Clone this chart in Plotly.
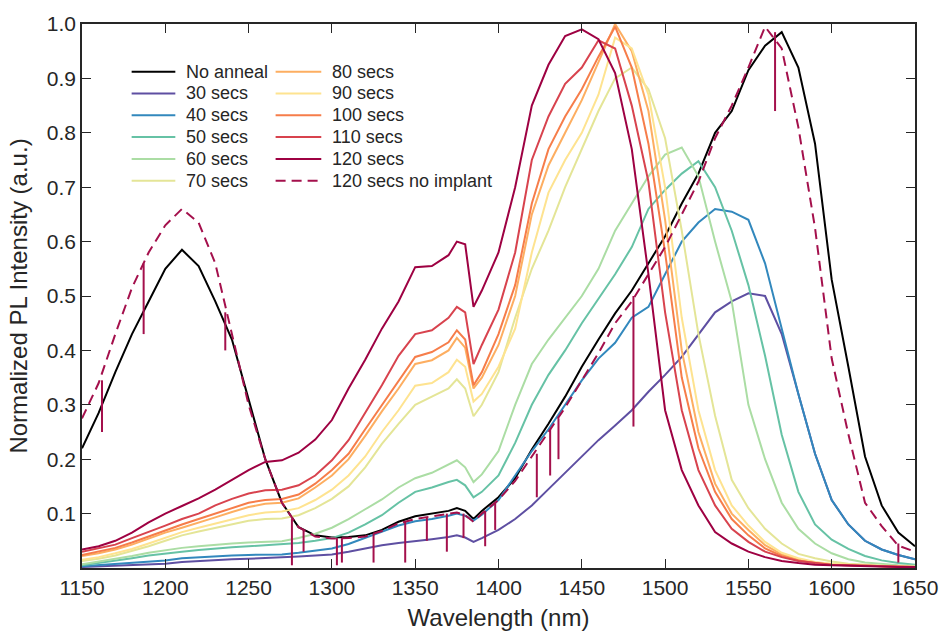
import plotly.graph_objects as go

# Sampled wavelengths (nm); extra points around the 1385 nm absorption dip
wavelength = [1150, 1160, 1170, 1180, 1190, 1200, 1210, 1220, 1230, 1240,
              1250, 1260, 1270, 1280, 1290, 1300, 1310, 1320, 1330, 1340,
              1350, 1360, 1370, 1375, 1380, 1385, 1390,
              1400, 1410, 1420, 1430, 1440, 1450, 1460, 1470, 1480, 1490,
              1500, 1510, 1520, 1530, 1540, 1550, 1560, 1570, 1580, 1590,
              1600, 1610, 1620, 1630, 1640, 1650]

no_anneal = [0.22, 0.285, 0.36, 0.43, 0.49, 0.55, 0.585, 0.555, 0.49, 0.42,
             0.31, 0.20, 0.12, 0.075, 0.06, 0.056, 0.057, 0.06, 0.07, 0.085,
             0.095, 0.1, 0.105, 0.11, 0.105, 0.09, 0.105,
             0.13, 0.165, 0.218, 0.265, 0.315, 0.37, 0.42, 0.468, 0.51, 0.56,
             0.61, 0.67, 0.725, 0.8, 0.84, 0.915, 0.96, 0.985, 0.92, 0.78,
             0.53, 0.37, 0.205, 0.115, 0.065, 0.04]

secs_30 = [0.002, 0.003, 0.004, 0.005, 0.006, 0.008, 0.011, 0.013, 0.015, 0.016,
           0.017, 0.018, 0.019, 0.021, 0.023, 0.025, 0.03, 0.036, 0.042, 0.046,
           0.049, 0.053, 0.057, 0.06, 0.056, 0.048, 0.055,
           0.07, 0.09, 0.115, 0.145, 0.175, 0.205, 0.235, 0.262, 0.29, 0.324,
           0.355, 0.388, 0.43, 0.47, 0.49, 0.505, 0.5, 0.43, 0.32, 0.21,
           0.125, 0.08, 0.05, 0.034, 0.024, 0.016]

secs_40 = [0.003, 0.005, 0.007, 0.009, 0.011, 0.014, 0.018, 0.02, 0.022, 0.023,
           0.024, 0.024, 0.025, 0.028, 0.032, 0.036, 0.044, 0.055, 0.067, 0.078,
           0.086, 0.09, 0.096, 0.1, 0.096, 0.087, 0.098,
           0.125, 0.17, 0.215, 0.255, 0.3, 0.345, 0.385, 0.414, 0.46, 0.48,
           0.54, 0.6, 0.635, 0.66, 0.655, 0.64, 0.56, 0.44, 0.32, 0.21,
           0.125, 0.08, 0.05, 0.034, 0.024, 0.016]

secs_50 = [0.005, 0.009, 0.013, 0.018, 0.023, 0.027, 0.03, 0.033, 0.036, 0.038,
           0.04, 0.042, 0.043, 0.046, 0.05, 0.055, 0.065, 0.08, 0.097, 0.12,
           0.14, 0.148, 0.158, 0.162, 0.152, 0.13, 0.14,
           0.17, 0.23, 0.3, 0.355, 0.4, 0.45, 0.495, 0.54, 0.59, 0.66,
           0.695, 0.725, 0.748, 0.7, 0.62, 0.52, 0.39, 0.245, 0.14, 0.08,
           0.052, 0.035, 0.022, 0.014, 0.009, 0.006]

secs_60 = [0.007, 0.012, 0.016, 0.022, 0.028, 0.033, 0.037, 0.04, 0.043, 0.045,
           0.047, 0.048, 0.049, 0.055, 0.063, 0.074, 0.09, 0.108, 0.126, 0.148,
           0.165, 0.175, 0.19, 0.198, 0.185, 0.158, 0.172,
           0.215, 0.3, 0.375, 0.42, 0.46, 0.5, 0.55, 0.62, 0.67, 0.72,
           0.76, 0.773, 0.72, 0.6, 0.49, 0.3, 0.2, 0.12, 0.072, 0.045,
           0.027, 0.016, 0.01, 0.007, 0.005, 0.004]

secs_70 = [0.013, 0.017, 0.023, 0.031, 0.04, 0.05, 0.06, 0.067, 0.074, 0.081,
           0.087, 0.09, 0.091, 0.097, 0.11, 0.127, 0.15, 0.185, 0.228, 0.265,
           0.3, 0.315, 0.33, 0.347, 0.33, 0.279, 0.3,
           0.36, 0.46, 0.55, 0.62, 0.7, 0.77, 0.84, 0.9, 0.92, 0.88,
           0.79, 0.62, 0.43, 0.28, 0.162, 0.11, 0.072, 0.045, 0.026, 0.018,
           0.012, 0.008, 0.006, 0.004, 0.003, 0.003]

secs_80 = [0.022, 0.027, 0.034, 0.043, 0.054, 0.065, 0.074, 0.083, 0.093, 0.103,
           0.112, 0.118, 0.12, 0.128, 0.148, 0.17, 0.2, 0.243, 0.288, 0.33,
           0.375, 0.382, 0.4, 0.423, 0.405, 0.33, 0.35,
           0.41, 0.5, 0.65, 0.74, 0.8, 0.86, 0.93, 1.0, 0.95, 0.84,
           0.64, 0.4, 0.25, 0.155, 0.1, 0.07, 0.042, 0.025, 0.016, 0.01,
           0.007, 0.005, 0.004, 0.003, 0.003, 0.002]

secs_90 = [0.015, 0.02, 0.027, 0.035, 0.045, 0.056, 0.066, 0.074, 0.082, 0.09,
           0.097, 0.102, 0.104, 0.11, 0.125, 0.144, 0.17, 0.205, 0.25, 0.29,
           0.335, 0.34, 0.36, 0.383, 0.37, 0.306, 0.32,
           0.37, 0.44, 0.58, 0.69, 0.75, 0.8, 0.87, 0.975, 0.955, 0.87,
           0.7, 0.46, 0.29, 0.18, 0.115, 0.078, 0.048, 0.028, 0.018, 0.011,
           0.008, 0.006, 0.004, 0.003, 0.003, 0.002]

secs_100 = [0.024, 0.03, 0.037, 0.047, 0.058, 0.07, 0.08, 0.09, 0.1, 0.11,
            0.12, 0.125, 0.127, 0.135, 0.155, 0.18, 0.21, 0.255, 0.3, 0.345,
            0.388, 0.397, 0.415, 0.437, 0.42, 0.336, 0.36,
            0.43, 0.52, 0.67, 0.77, 0.83, 0.88, 0.94, 0.995, 0.92, 0.78,
            0.58, 0.35, 0.22, 0.14, 0.09, 0.06, 0.036, 0.022, 0.014, 0.009,
            0.006, 0.005, 0.004, 0.003, 0.003, 0.002]

secs_110 = [0.03, 0.036, 0.043, 0.055, 0.066, 0.078, 0.09, 0.1, 0.115, 0.127,
            0.137, 0.143, 0.144, 0.152, 0.17, 0.198, 0.235, 0.285, 0.336, 0.39,
            0.43, 0.437, 0.46, 0.48, 0.47, 0.375, 0.41,
            0.475, 0.58, 0.75, 0.83, 0.89, 0.92, 0.97, 0.955, 0.85, 0.71,
            0.47, 0.29, 0.18, 0.115, 0.072, 0.048, 0.03, 0.02, 0.013, 0.009,
            0.006, 0.005, 0.004, 0.003, 0.003, 0.002]

secs_120 = [0.034, 0.04, 0.05, 0.065, 0.084, 0.1, 0.114, 0.128, 0.144, 0.162,
            0.18, 0.195, 0.198, 0.212, 0.236, 0.272, 0.33, 0.383, 0.44, 0.49,
            0.553, 0.555, 0.575, 0.6, 0.595, 0.48, 0.51,
            0.58, 0.7, 0.85, 0.925, 0.978, 0.99, 0.972, 0.91, 0.77, 0.54,
            0.29, 0.18, 0.115, 0.066, 0.045, 0.03, 0.02, 0.013, 0.009, 0.006,
            0.005, 0.004, 0.003, 0.003, 0.002, 0.002]

secs_120_no_implant = [0.275, 0.34, 0.43, 0.515, 0.58, 0.63, 0.66, 0.635, 0.56, 0.43,
                       0.3, 0.2, 0.12, 0.075, 0.058, 0.054, 0.055, 0.058, 0.068, 0.082,
                       0.09, 0.095, 0.1, 0.102, 0.097, 0.085, 0.1,
                       0.125, 0.16, 0.205, 0.25, 0.295, 0.345, 0.395, 0.45, 0.49, 0.54,
                       0.59, 0.65, 0.71, 0.79, 0.85, 0.92, 0.995, 0.955, 0.81, 0.625,
                       0.385, 0.246, 0.12, 0.077, 0.041, 0.03]

# Sharp detector dropouts on the "120 secs no implant" spectrum
dropout_wl = [1162, 1187, 1236, 1276, 1283, 1303, 1306, 1325, 1344, 1357,
              1369, 1379, 1392, 1398, 1423, 1431, 1436, 1481, 1566, 1640]
dropout_top = [0.345, 0.56, 0.47, 0.09, 0.07, 0.055, 0.055, 0.063, 0.085, 0.093,
               0.1, 0.1, 0.105, 0.12, 0.21, 0.255, 0.275, 0.5, 0.985, 0.045]
dropout_low = [0.25, 0.43, 0.40, 0.005, 0.03, 0.005, 0.01, 0.01, 0.01, 0.05,
               0.03, 0.055, 0.04, 0.07, 0.13, 0.17, 0.2, 0.26, 0.84, 0.01]

DASHED = "10px,6px"
series = [
    ("No anneal", no_anneal, "#000000", "solid"),
    ("30 secs", secs_30, "#5e4fa2", "solid"),
    ("40 secs", secs_40, "#3288bd", "solid"),
    ("50 secs", secs_50, "#66c2a5", "solid"),
    ("60 secs", secs_60, "#abdda4", "solid"),
    ("70 secs", secs_70, "#e4e597", "solid"),
    ("80 secs", secs_80, "#fdae61", "solid"),
    ("90 secs", secs_90, "#fee390", "solid"),
    ("100 secs", secs_100, "#f67d4a", "solid"),
    ("110 secs", secs_110, "#d8434e", "solid"),
    ("120 secs", secs_120, "#9e0142", "solid"),
    ("120 secs no implant", secs_120_no_implant, "#a4104c", DASHED),
]

fig = go.Figure()
for name, vals, color, dash in series:
    fig.add_trace(go.Scatter(
        x=wavelength, y=vals, mode="lines", name=name, showlegend=False,
        line=dict(color=color, width=2, dash=dash),
    ))

spike_x, spike_y = [], []
for w, top, low in zip(dropout_wl, dropout_top, dropout_low):
    spike_x += [w, w, None]
    spike_y += [top, low, None]
fig.add_trace(go.Scatter(
    x=spike_x, y=spike_y, mode="lines", showlegend=False,
    line=dict(color="#a4104c", width=2), hoverinfo="skip",
))

# Plot-area geometry in pixels, used to lay out the two-column key
PLOT_L, PLOT_R, PLOT_T, PLOT_B = 82, 921, 14, 570
W, H = 950, 639


def px_x(px):
    return (px - PLOT_L) / (PLOT_R - PLOT_L)


def px_y(py):
    return (PLOT_B - py) / (PLOT_B - PLOT_T)


key_columns = [(132, 176, 185), (277, 323, 332)]  # line start, line end, text start
key_row0, key_step = 62.7, 22.3
shapes, annotations = [], []
for i, (name, _, color, dash) in enumerate(series):
    col, row = divmod(i, 6)
    x0, x1, xt = key_columns[col]
    yy = key_row0 + row * key_step
    shapes.append(dict(
        type="line", xref="paper", yref="paper",
        x0=px_x(x0), x1=px_x(x1), y0=px_y(yy), y1=px_y(yy),
        line=dict(color=color, width=2, dash=dash),
    ))
    annotations.append(dict(
        text=name, xref="paper", yref="paper", x=px_x(xt), y=px_y(yy),
        xanchor="left", yanchor="middle", showarrow=False,
        font=dict(size=18, color="#262626"),
    ))

axis_color = "#262626"
common_axis = dict(
    ticks="inside", ticklen=9, tickwidth=1.2, tickcolor=axis_color,
    showline=True, linecolor=axis_color, linewidth=1.5, mirror="ticks",
    showgrid=False, zeroline=False,
    tickfont=dict(size=21, color=axis_color),
)

y_ticks = [0.1, 0.2, 0.3, 0.4, 0.5, 0.6, 0.7, 0.8, 0.9, 1.0]
x_ticks = list(range(1150, 1651, 50))

fig.update_layout(
    width=W, height=H,
    margin=dict(l=PLOT_L, r=W - PLOT_R, t=PLOT_T, b=H - PLOT_B),
    paper_bgcolor="white", plot_bgcolor="white",
    font=dict(family="Liberation Sans, Arial, sans-serif", color=axis_color),
    showlegend=False,
    xaxis=dict(range=[1150, 1650], tickvals=x_ticks,
               title=dict(text="Wavelength (nm)", font=dict(size=24), standoff=11),
               **common_axis),
    yaxis=dict(range=[0, 1.0], tickvals=y_ticks,
               ticktext=[f"{v:.1f}" for v in y_ticks],
               title=dict(text="Normalized PL Intensity (a.u.)", font=dict(size=24), standoff=12),
               **common_axis),
    shapes=shapes,
    annotations=annotations,
)

fig.write_html("out.html")
